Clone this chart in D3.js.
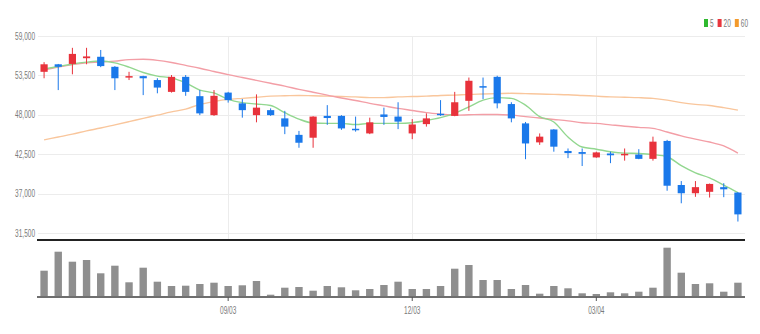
<!DOCTYPE html>
<html><head><meta charset="utf-8">
<script src="https://cdn.jsdelivr.net/npm/d3@7/dist/d3.min.js"></script>
<style>html,body{margin:0;padding:0;background:#fff;}svg{display:block;}</style>
</head><body><svg id="c" width="760" height="334"></svg>
<script>
const dates = ["2003-06-02","2003-06-09","2003-06-16","2003-06-23","2003-06-30",
"2003-07-07","2003-07-14","2003-07-21","2003-07-28",
"2003-08-04","2003-08-11","2003-08-18","2003-08-25",
"2003-09-01","2003-09-08","2003-09-15","2003-09-22","2003-09-29",
"2003-10-06","2003-10-13","2003-10-20","2003-10-27",
"2003-11-03","2003-11-10","2003-11-17","2003-11-24",
"2003-12-01","2003-12-08","2003-12-15","2003-12-22","2003-12-29",
"2004-01-05","2004-01-12","2004-01-19","2004-01-26",
"2004-02-02","2004-02-09","2004-02-16","2004-02-23",
"2004-03-01","2004-03-08","2004-03-15","2004-03-22","2004-03-29",
"2004-04-05","2004-04-12","2004-04-19","2004-04-26",
"2004-05-03","2004-05-10"];
const open  = [54000,55050,55100,55900,56100,54700,53200,53400,52850,51200,53300,50600,47950,51100,49600,47950,48650,47500,45200,44800,47850,47850,46050,45400,48050,47750,45400,46700,48150,47850,49950,52000,53300,49500,46800,44150,45950,42950,42800,42050,42600,42350,42450,41850,44350,38200,37050,37250,37900,37150];
const high  = [55350,55100,57350,57350,57050,54800,54000,53450,53100,53550,53550,51450,51450,51200,50200,50850,48900,48550,45750,47800,49350,47950,47750,47600,49000,49750,47400,48200,50050,51200,53200,53200,53450,49750,47000,45400,46000,43300,43300,42850,42850,43300,43200,44950,44500,38750,38750,38400,38450,37200];
const low   = [53100,51450,53650,55050,54650,51450,52850,50750,51000,51100,50650,47950,47850,49700,47600,46950,47850,45300,43400,43400,46600,45900,45650,45300,46600,46000,44600,46350,47850,47800,48550,50200,48900,46950,41800,43800,42850,41950,40850,42000,41250,41600,41800,41600,37400,35650,36550,36450,36500,33100];
const close = [55050,54700,56500,56150,54800,53100,53400,53100,51800,53300,51200,48200,50650,50050,48650,49000,47950,46350,44100,47750,47550,46100,45850,46950,47700,47050,46650,47500,47950,49750,52750,51800,49600,47500,44000,44950,43550,42650,42550,42750,42350,42550,41850,44250,38100,37050,37900,38350,37600,34100];
const volume = [263,453,353,370,237,313,147,293,153,110,113,130,143,110,117,160,23,93,100,63,110,97,67,80,120,153,80,80,110,283,320,170,170,80,120,33,110,87,37,30,47,37,53,93,493,243,130,137,53,143];
const ma5  = [54400,54750,55100,55350,55500,55250,54650,53900,53400,53150,52450,51450,51050,50150,49700,49500,49300,48300,47400,46850,46800,46800,46650,46800,46800,46800,46900,47200,47600,48200,49100,50050,50400,50300,49350,47750,47000,44900,43500,43200,42850,42650,42600,42450,42150,40900,39900,39200,38200,37150];
const ma20 = [54250,54650,55000,55250,55350,55500,55700,55750,55600,55300,54900,54500,54050,53600,53200,52800,52400,52000,51550,51150,50750,50350,50000,49600,49250,48900,48600,48300,48100,47950,48000,48050,48050,47950,47750,47550,47350,47150,46900,46800,46600,46400,46250,46100,45600,45050,44600,44200,43650,42650];
const ma60 = [44500,44900,45300,45750,46150,46600,47050,47500,47950,48400,48800,49450,49850,50150,50300,50450,50600,50650,50700,50650,50600,50550,50500,50400,50400,50500,50550,50600,50700,50750,50850,50900,50950,51000,50950,50900,50850,50800,50700,50600,50500,50450,50400,50300,50050,49700,49450,49300,49000,48650];
const priceTicks = [31500,37000,42500,48000,53500,59000];
const tickDates = ["2003-09-01","2003-12-01","2004-03-01"];
const tickLabels = ["09/03","12/03","03/04"];
const maNames = ["5","20","60"];

const UP = "#e8323b", DOWN = "#1a78ea";
const maColors = ["#92d78f","#f39ea6","#f9c69c"];
const legendColors = ["#2fb92f","#e8363d","#f39a2c"];

const svg = d3.select("#c");
const L = 37, R = 745, pTop = 36, pBot = 240, vBase = 297, vTop = 247;
const x = d3.scalePoint().domain(dates).range([L, R]).padding(0.5);
const y = d3.scaleLinear().domain([31500, 59000]).range([233, 36]);
const yv = d3.scaleLinear().domain([0, 500]).range([vBase, vTop]);
const bw = 7.2;

function condText(g, tx, ty, str, anchor) {
  return g.append("text").attr("transform", `translate(${tx},${ty}) scale(0.62,1)`)
    .attr("text-anchor", anchor).attr("font-family", "Liberation Sans, Arial, sans-serif")
    .attr("font-size", 10.5).attr("fill", "#7a7a7a").text(str);
}

// grid
const grid = svg.append("g");
grid.selectAll("line.h").data(priceTicks).join("line")
  .attr("x1", L + 1).attr("x2", R).attr("y1", d => Math.round(y(d)) + 0.5).attr("y2", d => Math.round(y(d)) + 0.5)
  .attr("stroke", "#ececec").attr("stroke-width", 1);
grid.selectAll("line.v").data(tickDates).join("line")
  .attr("x1", d => Math.round(x(d)) + 0.5).attr("x2", d => Math.round(x(d)) + 0.5)
  .attr("y1", pTop).attr("y2", pBot).attr("stroke", "#ececec");

// y labels
const yl = svg.append("g");
priceTicks.forEach(t => condText(yl, 35, y(t) + 3.5, d3.format(",")(t), "end"));

// MA lines
const mas = [ma5, ma20, ma60];
const lineGen = arr => d3.line().x((d, i) => x(dates[i])).y(d => y(d)).curve(d3.curveMonotoneX)(arr);
[2, 1, 0].forEach(k => {
  svg.append("path").attr("d", lineGen(mas[k])).attr("fill", "none")
    .attr("stroke", maColors[k]).attr("stroke-width", 1.4);
});

// candles
const cg = svg.append("g");
dates.forEach((d, i) => {
  const c = close[i] >= open[i] ? UP : DOWN;
  const cx = x(d);
  cg.append("line").attr("x1", cx).attr("x2", cx).attr("y1", y(high[i])).attr("y2", y(low[i]))
    .attr("stroke", c).attr("stroke-width", 1);
  const top = y(Math.max(open[i], close[i])), bot = y(Math.min(open[i], close[i]));
  cg.append("rect").attr("x", cx - bw / 2).attr("width", bw).attr("y", top)
    .attr("height", Math.max(1.5, bot - top)).attr("fill", c);
});

// separator
svg.append("line").attr("x1", L).attr("x2", R).attr("y1", pBot).attr("y2", pBot)
  .attr("stroke", "#222").attr("stroke-width", 2);

// volume
svg.append("g").selectAll("rect").data(volume).join("rect")
  .attr("x", (v, i) => x(dates[i]) - 3.7).attr("width", 7.4)
  .attr("y", v => yv(v)).attr("height", v => vBase - yv(v)).attr("fill", "#8f8f8f");
svg.append("line").attr("x1", L).attr("x2", R).attr("y1", vBase).attr("y2", vBase)
  .attr("stroke", "#6f6f6f").attr("stroke-width", 2);

// x ticks + labels
const xg = svg.append("g");
tickDates.forEach((d, k) => {
  xg.append("line").attr("x1", x(d)).attr("x2", x(d)).attr("y1", vBase).attr("y2", vBase + 4)
    .attr("stroke", "#555").attr("stroke-width", 1);
  condText(xg, x(d), 314, tickLabels[k], "middle");
});

// legend
const lg = svg.append("g");
let lx = 704;
maNames.forEach((n, k) => {
  lg.append("rect").attr("x", lx).attr("y", 19).attr("width", 4).attr("height", 8).attr("fill", legendColors[k]);
  condText(lg, lx + 6, 26.5, n, "start");
  lx += 6 + n.length * 3.6 + 4;
});
</script></body></html>
